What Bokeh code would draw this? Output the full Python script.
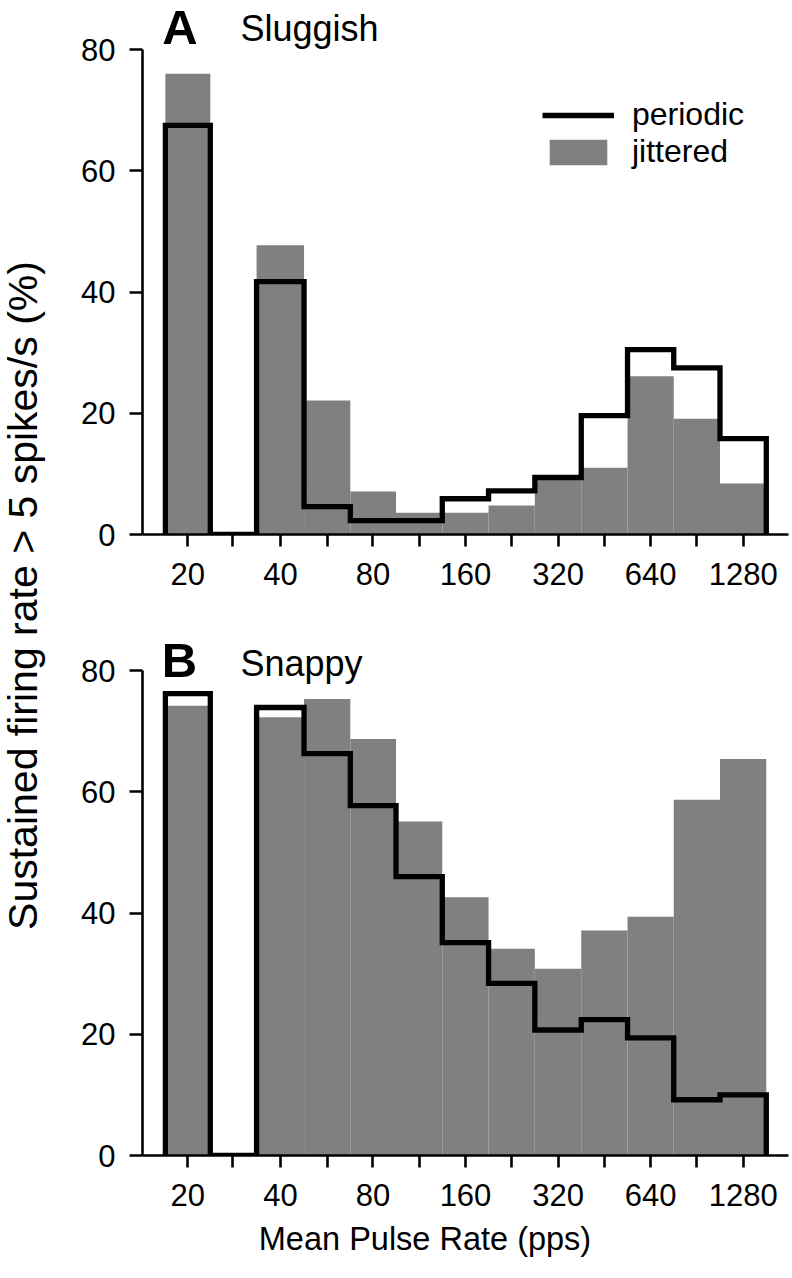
import numpy as np
from bokeh.plotting import figure
from bokeh.models import Range1d, FixedTicker, Label, Legend, LegendItem
from bokeh.layouts import row, column
from bokeh.embed import file_html
from bokeh.resources import INLINE

# ---------------- data ----------------
rates = [20, 28, 40, 57, 80, 113, 160, 226, 320, 453, 640, 905, 1280]
rate_labels = ["20", "", "40", "", "80", "", "160", "", "320", "", "640", "", "1280"]
y_ticks = [0, 20, 40, 60, 80]

sluggish_periodic = [67.5, 0.0, 41.7, 4.6, 2.3, 2.3, 5.9, 7.2, 9.4, 19.6, 30.5, 27.5, 15.8]
sluggish_jittered = [76.0, 0.0, 47.7, 22.1, 7.1, 3.6, 3.6, 4.8, 9.0, 11.0, 26.1, 19.1, 8.4]
snappy_periodic = [76.2, 0.0, 73.9, 66.3, 57.7, 46.0, 35.1, 28.4, 20.7, 22.4, 19.4, 9.2, 10.0]
snappy_jittered = [74.2, 0.0, 72.3, 75.3, 68.7, 55.1, 42.6, 34.1, 30.8, 37.1, 39.4, 58.7, 65.4]

FONT = "Liberation Sans"
GRAY = "#808080"

r = np.array(rates, dtype=float)
mids = np.sqrt(r[:-1] * r[1:])
edges = np.concatenate([[r[0] ** 2 / mids[0]], mids, [r[-1] ** 2 / mids[-1]]])

PANEL_W = 730
X_RANGE = (r[0] * 2 ** -0.49, r[-1] * 2 ** 0.49)


def outline(vals):
    xs = [edges[0]]
    ys = [0.0]
    for i, v in enumerate(vals):
        xs += [edges[i], edges[i + 1]]
        ys += [v, v]
    xs.append(edges[-1])
    ys.append(0.0)
    return xs, ys


def make_panel(periodic, jittered, letter, name, height, y_top, bottom,
               letter_xy, name_xy, legend=False):
    p = figure(width=PANEL_W, height=height, x_axis_type="log",
               x_range=Range1d(*X_RANGE), y_range=Range1d(0, y_top),
               output_backend="svg", toolbar_location=None,
               min_border_left=82, min_border_right=2,
               min_border_top=0, min_border_bottom=bottom)
    p.grid.visible = False
    p.outline_line_color = None
    p.background_fill_color = "white"
    p.border_fill_color = "white"

    q = p.quad(left=edges[:-1], right=edges[1:], bottom=0, top=jittered,
               fill_color=GRAY, line_color=None)
    xs, ys = outline(periodic)
    ln = p.line(xs, ys, line_color="black", line_width=5.3, line_join="miter")

    for ax in (p.xaxis, p.yaxis):
        ax.axis_line_width = 2.6
        ax.axis_line_color = "black"
        ax.major_tick_line_width = 2.6
        ax.major_tick_line_color = "black"
        ax.major_tick_in = 0
        ax.minor_tick_line_color = None
        ax.major_label_text_font = FONT
        ax.major_label_text_font_size = "31px"
        ax.major_label_text_color = "black"

    p.xaxis.ticker = FixedTicker(ticks=rates)
    p.xaxis.major_label_overrides = {rt: lab for rt, lab in zip(rates, rate_labels)}
    p.xaxis.major_tick_out = 12
    p.xaxis.major_label_standoff = 16
    p.yaxis.ticker = FixedTicker(ticks=y_ticks)
    p.yaxis.bounds = (0, 80)
    p.yaxis.major_tick_out = 13
    p.yaxis.major_label_standoff = 14

    p.add_layout(Label(x=letter_xy[0], y=letter_xy[1], x_units="screen", y_units="screen",
                       text=letter, text_font=FONT, text_font_size="49px",
                       text_font_style="bold", text_baseline="alphabetic",
                       text_color="black"))
    p.add_layout(Label(x=name_xy[0], y=name_xy[1], x_units="screen", y_units="screen",
                       text=name, text_font=FONT, text_font_size="36px",
                       text_baseline="alphabetic", text_color="black"))

    if legend:
        lg = Legend(items=[LegendItem(label="periodic", renderers=[ln]),
                           LegendItem(label="jittered", renderers=[q])],
                    location=(400, 364), orientation="vertical",
                    border_line_color=None, background_fill_alpha=0,
                    padding=0, margin=0, spacing=0,
                    glyph_width=72, glyph_height=32, label_standoff=18,
                    label_height=32, label_text_baseline="middle",
                    label_text_font=FONT, label_text_font_size="32px",
                    label_text_color="black")
        p.add_layout(lg)
    return p


# Panel A: frame 534 px tall (0 at the bottom, 80 at 485 px up)
pA = make_panel(sluggish_periodic, sluggish_jittered, "A", "Sluggish",
                height=616, y_top=80 * 534 / 485, bottom=82,
                letter_xy=(19.7, 508), name_xy=(98, 506.5), legend=True)
# Panel B: frame 539 px tall
pB = make_panel(snappy_periodic, snappy_jittered, "B", "Snappy",
                height=604, y_top=80 * 539 / 485, bottom=65,
                letter_xy=(19.2, 496), name_xy=(98, 492))

# x-axis title strip (frame aligned with the panels above)
xl = figure(width=PANEL_W, height=56, x_range=Range1d(0, 1), y_range=Range1d(0, 1),
            output_backend="svg", toolbar_location=None,
            x_axis_location=None, y_axis_location=None,
            min_border_left=82, min_border_right=2, min_border_top=0, min_border_bottom=0)
xl.grid.visible = False
xl.outline_line_color = None
xl.add_layout(Label(x=116.3, y=37.5, x_units="screen", y_units="screen",
                    text="Mean Pulse Rate (pps)", text_font=FONT, text_font_size="32.5px",
                    text_baseline="alphabetic", text_color="black"))

# y-axis title strip (spans both panels)
ylab = figure(width=60, height=1276, x_range=Range1d(0, 1), y_range=Range1d(0, 1),
              output_backend="svg", toolbar_location=None,
              x_axis_location=None, y_axis_location=None,
              min_border_left=0, min_border_right=0, min_border_top=0, min_border_bottom=0)
ylab.grid.visible = False
ylab.outline_line_color = None
ylab.add_layout(Label(x=22, y=681, x_units="screen", y_units="screen",
                      text="Sustained firing rate > 5 spikes/s (%)",
                      angle=np.pi / 2, text_align="center", text_baseline="alphabetic",
                      text_font=FONT, text_font_size="41px", text_color="black"))

layout = row(ylab, column(pA, pB, xl, spacing=0), spacing=0)

with open("out.html", "w") as f:
    f.write(file_html(layout, INLINE))
